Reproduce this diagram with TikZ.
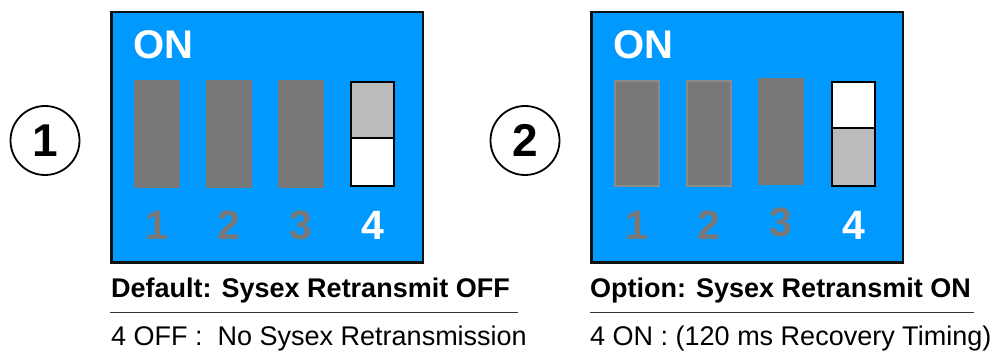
\documentclass[tikz,border=0pt]{standalone}
\usepackage{fontspec}
\setmainfont{Liberation Sans}
\definecolor{dipblue}{HTML}{0099FF}
\definecolor{swgray}{HTML}{777777}
\definecolor{swedge}{HTML}{8A8A8A}
\definecolor{lightgrey}{HTML}{BBBBBB}
\definecolor{boxedge}{HTML}{111111}
\definecolor{rulegray}{HTML}{333333}
\tikzset{
  panel/.style={draw=boxedge, line width=2.5pt, fill=dipblue},
  swbody/.style={fill=swgray},
  swframed/.style={fill=swgray, draw=swedge, line width=2pt},
  swhalf/.style={draw=black, line width=2pt},
  onlabel/.style={inner sep=0pt, anchor=base west, text=white, font=\fontsize{40}{40}\selectfont\bfseries},
  numoff/.style={inner sep=0pt, anchor=base, text=swgray, font=\fontsize{41}{41}\selectfont\bfseries},
  numon/.style={inner sep=0pt, anchor=base, text=white, font=\fontsize{41}{41}\selectfont\bfseries},
  badge/.style={circle, draw=black, line width=1.8pt, minimum size=69pt, inner sep=0pt, font=\fontsize{46}{46}\selectfont\bfseries},
  caption/.style={inner sep=0pt, anchor=base west, font=\fontsize{27}{30}\selectfont\bfseries},
  desc/.style={inner sep=0pt, anchor=base west, font=\fontsize{27}{30}\selectfont},
  rulestyle/.style={draw=rulegray, line width=1pt}
}
\begin{document}
\begin{tikzpicture}[x=1pt,y=-1pt]
\useasboundingbox[fill=white] (0,0) rectangle (998,352);

% ---------- Panel 1 ----------
\node[badge] (c1) at (45,140.5) {1};
\path[panel] (111.25,12.25) rectangle (422.75,262.75);
\node[onlabel] (on1) at (133,58.5) {ON};
\foreach \cx in {157,229,301}{
  \path[swbody] (\cx-23,80) rectangle (\cx+23,188);
}
\path[swhalf, fill=lightgrey] (351,81.7) rectangle (394,138);
\path[swhalf, fill=white] (351,138) rectangle (394,185.7);
\node[numoff] (n11) at (157,240) {1};
\node[numoff] (n12) at (229,240) {2};
\node[numoff] (n13) at (301,240) {3};
\node[numon]  (n14) at (373,240) {4};
\node[caption] (cap1) at (111,297.5) {Default: Sysex Retransmit OFF};
\coordinate (r1a) at (110,313);
\coordinate (r1b) at (518,313);
\draw[rulestyle] (r1a) -- (r1b);
\node[desc] (d1) at (111,345) {4 OFF :\ \ No Sysex Retransmission};

% ---------- Panel 2 ----------
\node[badge] (c2) at (525,140.5) {2};
\path[panel] (591.25,12.25) rectangle (902.75,262.75);
\node[onlabel] (on2) at (613,58.5) {ON};
\foreach \cx in {637,709}{
  \path[swframed] (\cx-22,81) rectangle (\cx+22,186);
}
\path[swbody] (758,78) rectangle (804,185);
\path[swhalf, fill=white] (832,81.7) rectangle (875,128.5);
\path[swhalf, fill=lightgrey] (832,128.5) rectangle (875,186);
\node[numoff] (n21) at (637,240) {1};
\node[numoff] (n22) at (709,240) {2};
\node[numoff] (n23) at (781,237) {3};
\node[numon]  (n24) at (853.5,240) {4};
\node[caption] (cap2) at (590,297.5) {Option: Sysex Retransmit ON};
\coordinate (r2a) at (590,313);
\coordinate (r2b) at (974,313);
\draw[rulestyle] (r2a) -- (r2b);
\node[desc] (d2) at (590,345) {4 ON : (120 ms Recovery Timing)};
\end{tikzpicture}
\end{document}
